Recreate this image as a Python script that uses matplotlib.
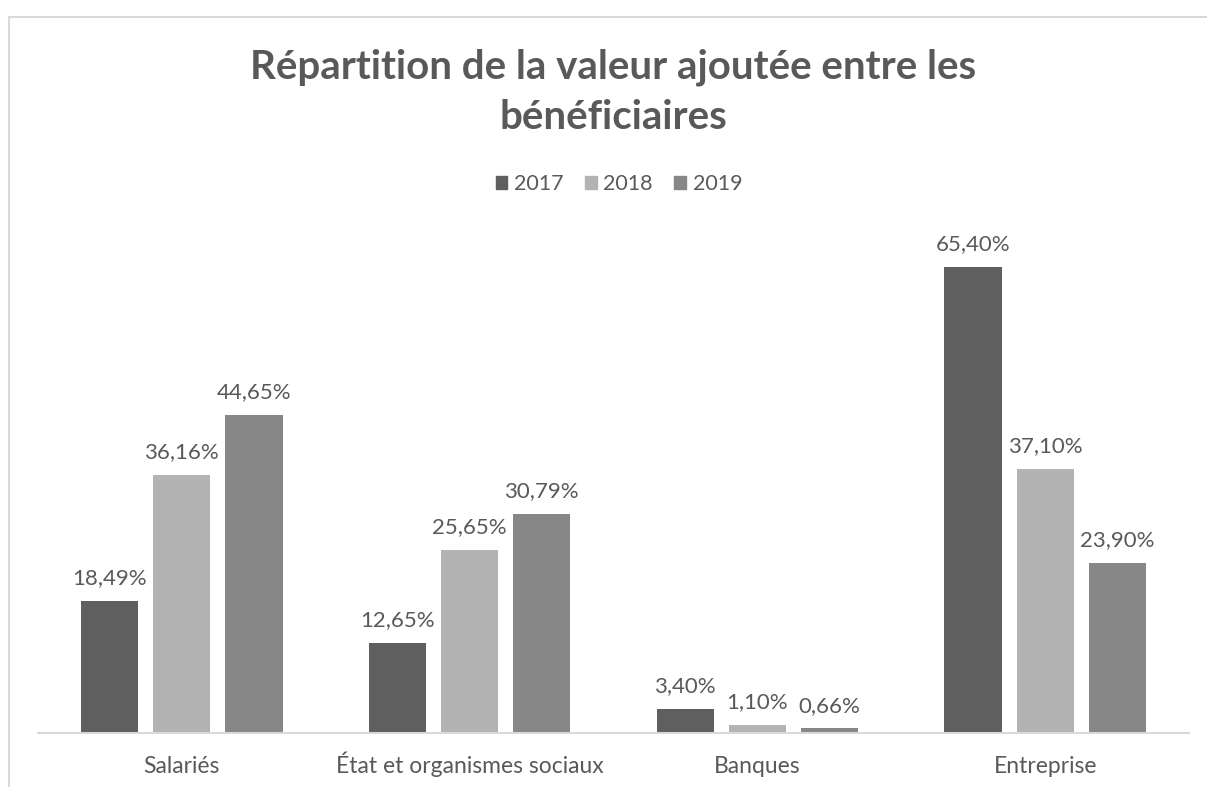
import matplotlib
matplotlib.use("Agg")
import matplotlib.pyplot as plt
import numpy as np
from matplotlib.patches import Rectangle
from matplotlib.lines import Line2D

categories = ["Salariés", "État et organismes sociaux", "Banques", "Entreprise"]
years = ["2017", "2018", "2019"]
v2017 = [18.49, 12.65, 3.40, 65.40]
v2018 = [36.16, 25.65, 1.10, 37.10]
v2019 = [44.65, 30.79, 0.66, 23.90]
series = [v2017, v2018, v2019]
colors = ["#5f5f5f", "#b3b3b3", "#878787"]
title = "Répartition de la valeur ajoutée entre les\nbénéficiaires"

plt.rcParams['font.family'] = ['Lato', 'DejaVu Sans']
txt = "#595959"

W, H = 1207, 787
fig = plt.figure(figsize=(W / 100, H / 100), dpi=100)
bx, by = 8.5 / W, 1 - 16.5 / H
fig.add_artist(Line2D([bx, 1.0], [by, by], transform=fig.transFigure,
                      color="#d9d9d9", linewidth=1.5))
fig.add_artist(Line2D([bx, bx], [0.0, by], transform=fig.transFigure,
                      color="#d9d9d9", linewidth=1.5))

ax = fig.add_axes([38 / W, 1 - 733 / H, (1189 - 38) / W, (733 - 234) / H])
x = np.arange(len(categories))
bw = 57 / 287
step = 72 / 287
for i, (vals, c, yr) in enumerate(zip(series, colors, years)):
    pos = x + (i - 1) * step
    ax.bar(pos, vals, width=bw, color=c, label=yr, zorder=2)
    for p, v in zip(pos, vals):
        ax.annotate(f"{v:.2f}%".replace(".", ","), (p, v), xytext=(0, 12),
                    textcoords="offset points", ha="center", va="baseline",
                    fontsize=16, color=txt)

ax.set_xlim(-0.5, len(categories) - 0.5)
ax.set_ylim(0, 70)
ax.set_yticks([])
for s in ["left", "right", "top"]:
    ax.spines[s].set_visible(False)
ax.spines["bottom"].set_color("#d9d9d9")
ax.spines["bottom"].set_linewidth(1.5)
ax.set_xticks(x)
ax.set_xticklabels(categories, fontsize=16.5, color=txt, va="baseline")
ax.tick_params(axis="x", length=0, pad=28.5)

fig.text(613 / W, 1 - 92 / H, title, ha="center", va="center", fontsize=29,
         fontweight="bold", color=txt, linespacing=1.45)

handles = [Rectangle((0, 0), 1, 1, color=c) for c in colors]
leg = fig.legend(handles, years, loc="center", bbox_to_anchor=(619 / W, 1 - 184 / H),
                 ncol=3, frameon=False, fontsize=15.5, handlelength=0.55, handleheight=0.55,
                 handletextpad=0.3, columnspacing=1.0)
for t in leg.get_texts():
    t.set_color(txt)

fig.savefig("out.png", dpi=100)
